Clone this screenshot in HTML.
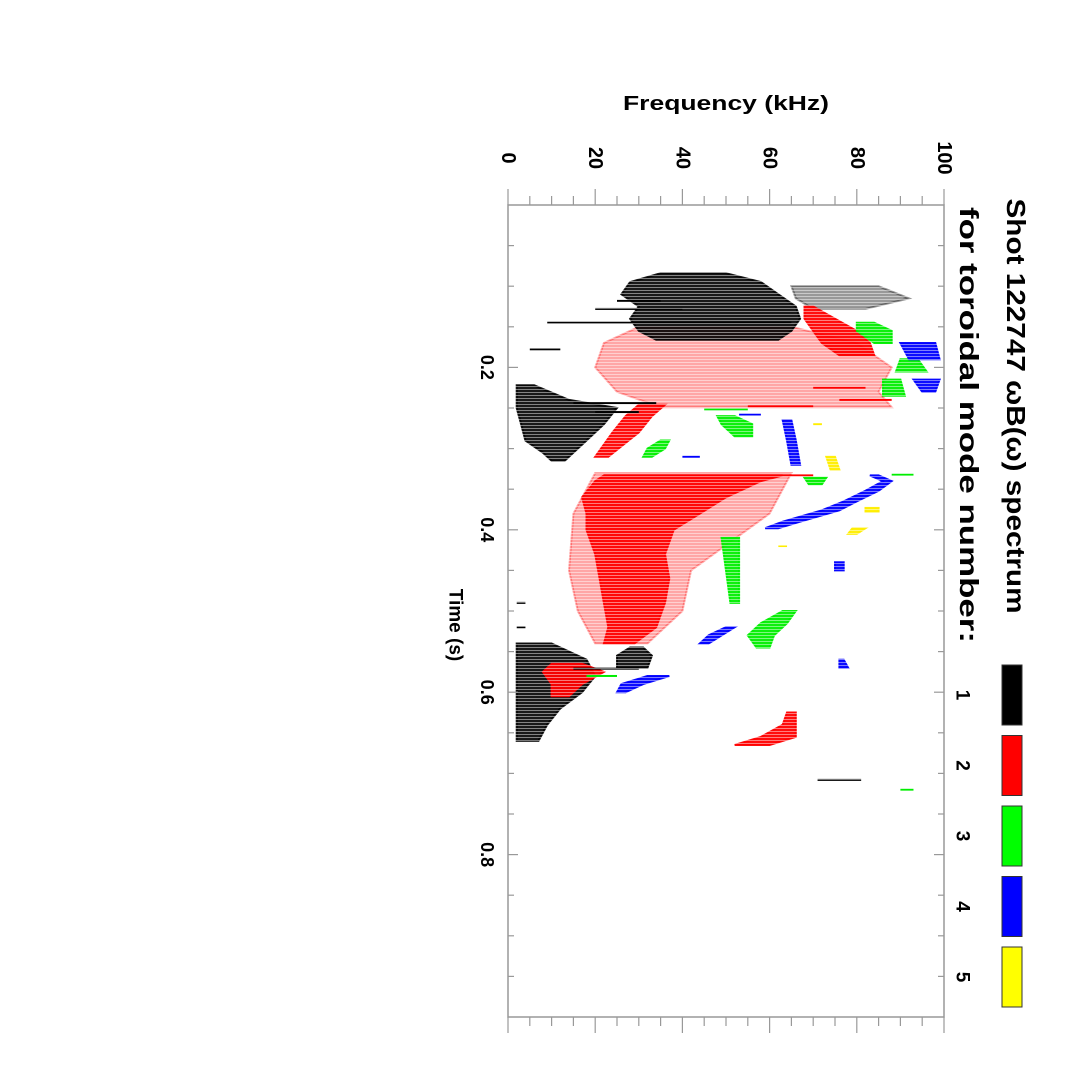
<!DOCTYPE html>
<html><head><meta charset="utf-8"><style>
html,body{margin:0;padding:0;background:#fff;}
svg{display:block;font-family:"Liberation Sans",sans-serif;font-weight:bold;}
</style></head><body>
<svg id="chart" width="1071" height="1071" viewBox="0 0 1071 1071" xmlns="http://www.w3.org/2000/svg">
<defs>
<pattern id="stripes" width="8" height="3" patternUnits="userSpaceOnUse">
<rect width="8" height="3" fill="#fff"/>
<rect y="2" width="8" height="1" fill="#888"/>
</pattern>
<mask id="streakMask"><rect x="0" y="0" width="1071" height="1071" fill="url(#stripes)"/></mask>
</defs>
<rect width="1071" height="1071" fill="#fff"/>
<g id="marks" mask="url(#streakMask)"></g>
<rect x="508" y="205" width="436" height="812" fill="none" stroke="#999" stroke-width="1.5"/>
<g id="ticks"></g>
<text x="726" y="110" font-size="20" text-anchor="middle" textLength="206" lengthAdjust="spacingAndGlyphs">Frequency (kHz)</text>
<text transform="translate(455,625) rotate(90)" font-size="19" text-anchor="middle" dominant-baseline="central">Time (s)</text>
<text transform="translate(1016,406) rotate(90)" font-size="26" text-anchor="middle" dominant-baseline="central" textLength="415" lengthAdjust="spacingAndGlyphs">Shot 122747 ωB(ω) spectrum</text>
<text transform="translate(969,425) rotate(90)" font-size="26" text-anchor="middle" dominant-baseline="central" textLength="436" lengthAdjust="spacingAndGlyphs">for toroidal mode number:</text>
<g id="legend"></g>
</svg>
<script>
const freqTicks = [0, 20, 40, 60, 80, 100];
const timeTicks = [0.2, 0.4, 0.6, 0.8];
const modeLabels = ["1", "2", "3", "4", "5"];
const modeColors = ["#000000", "#ff0000", "#00ff00", "#0000ff", "#ffff00"];
// blobs per mode: each blob is rows of [time (s), fLow (kHz), fHigh (kHz)]
const mode1Blobs = [
 [[0.084,35,50],[0.095,28,58],[0.11,26,62],[0.125,30,66],[0.14,28,67],[0.155,30,65],[0.166,34,62]],
 [[0.222,2,6],[0.24,2,14],[0.25,2,25],[0.27,3,22],[0.29,4,18],[0.305,8,15],[0.315,10,13]],
 [[0.54,2,10],[0.56,2,18],[0.58,2,20],[0.6,2,17],[0.62,2,12],[0.64,2,9],[0.66,2,7]],
 [[0.545,28,31],[0.555,25,33],[0.57,25,32]]
];
const mode1Faint = [
 [[0.1,65,85],[0.115,66,92],[0.128,70,82]]
];
const mode1Streaks = [[0.145,9,65],[0.128,20,40],[0.118,25,35],[0.244,15,34],[0.255,20,30],[0.571,15,30],[0.708,71,81],[0.178,5,12],[0.52,2,4],[0.49,2,4]];
const mode2Blobs = [
 [[0.125,68,70],[0.14,68,75],[0.155,70,80],[0.17,72,83],[0.185,76,84]],
 [[0.246,30,36],[0.26,27,33],[0.28,24,30],[0.31,20,23]],
 [[0.333,22,63],[0.34,20,58],[0.36,17,50],[0.38,18,44],[0.4,18,38],[0.43,20,36],[0.46,21,37],[0.49,22,36],[0.52,23,34],[0.54,22,29]],
 [[0.565,10,17],[0.575,8,22],[0.59,10,17],[0.605,10,14]],
 [[0.625,64,66],[0.64,63,66],[0.655,58,66],[0.665,52,60]]
];
const mode2Faint = [
 [[0.15,30,65],[0.17,22,80],[0.2,20,88],[0.23,25,85],[0.249,35,88]],
 [[0.33,20,65],[0.38,15,60],[0.45,14,42],[0.5,16,40],[0.54,20,32]]
];
const mode2Streaks = [[0.24,76,88],[0.225,70,82],[0.333,22,70],[0.248,55,70]];
const mode3Blobs = [
 [[0.145,80,84],[0.155,80,88],[0.17,84,88]],
 [[0.19,90,94],[0.205,89,96]],
 [[0.215,86,90],[0.235,86,91]],
 [[0.26,48,52],[0.27,49,56],[0.285,52,56]],
 [[0.29,35,37],[0.3,32,36],[0.31,31,33]],
 [[0.336,68,73],[0.344,69,72]],
 [[0.41,49,53],[0.45,50,53],[0.49,51,53]],
 [[0.5,63,66],[0.515,58,64],[0.53,55,61],[0.545,57,60]]
];
const mode3Streaks = [[0.58,18,25],[0.332,88,93],[0.252,45,55],[0.72,90,93]];
const mode4Blobs = [
 [[0.17,90,98],[0.19,92,99]],
 [[0.215,93,99],[0.23,95,98]],
 [[0.265,63,65],[0.29,64,66],[0.32,65,67]],
 [[0.333,83,85],[0.34,86,88],[0.352,82,85],[0.365,77,80],[0.376,72,76],[0.39,63,67],[0.398,59,62]],
 [[0.44,75,77],[0.45,75,77]],
 [[0.52,50,52],[0.53,46,49],[0.54,44,46]],
 [[0.56,76,77],[0.57,76,78]],
 [[0.58,32,37],[0.59,26,31],[0.6,25,27]]
];
const mode4Streaks = [[0.258,53,58],[0.31,40,44]];
const mode5Blobs = [
 [[0.31,73,75],[0.326,74,76]],
 [[0.373,82,85],[0.378,82,85]],
 [[0.398,79,82],[0.405,78,80]]
];
const mode5Streaks = [[0.42,62,64],[0.27,70,72]];

const X0 = 508, X1 = 944, Y0 = 205, Y1 = 1017;
const fx = f => X0 + (f / 100) * (X1 - X0);
const ty = t => Y0 + (t / 1.0) * (Y1 - Y0);
const NS = "http://www.w3.org/2000/svg";
const marks = document.getElementById("marks");
const ticks = document.getElementById("ticks");
const legend = document.getElementById("legend");

function blobPath(rows) {
  const left = rows.map(r => fx(r[1]).toFixed(1) + "," + ty(r[0]).toFixed(1));
  const right = rows.slice().reverse().map(r => fx(r[2]).toFixed(1) + "," + ty(r[0]).toFixed(1));
  return left.concat(right).join(" ");
}
function drawBlobs(blobs, color, op, name) {
  blobs.forEach(rows => {
    const p = document.createElementNS(NS, "polygon");
    p.setAttribute("points", blobPath(rows));
    p.setAttribute("fill", color);
    p.setAttribute("fill-opacity", op);
    p.setAttribute("stroke", color);
    p.setAttribute("stroke-opacity", op);
    p.setAttribute("stroke-width", "2");
    
    
    marks.appendChild(p);
  });
}
function drawStreaks(streaks, color, name) {
  streaks.forEach(s => {
    const r = document.createElementNS(NS, "rect");
    r.setAttribute("x", fx(s[1]));
    r.setAttribute("y", ty(s[0]) - 1);
    r.setAttribute("width", fx(s[2]) - fx(s[1]));
    r.setAttribute("height", 2);
    r.setAttribute("fill", color);
    
    
    marks.appendChild(r);
  });
}
drawBlobs(mode2Faint, "#ff0000", 0.35, "mode-2-faint-region");
drawBlobs(mode1Faint, "#000000", 0.4, "mode-1-faint-region");
drawBlobs(mode1Blobs, "#000000", 0.9, "mode-1-region");
drawBlobs(mode2Blobs, "#ff0000", 0.95, "mode-2-region");
drawBlobs(mode3Blobs, "#00ee00", 0.95, "mode-3-region");
drawBlobs(mode4Blobs, "#0000ff", 0.95, "mode-4-region");
drawBlobs(mode5Blobs, "#ffee00", 0.95, "mode-5-region");
drawStreaks(mode1Streaks, "#000", "mode-1-streak");
drawStreaks(mode2Streaks, "#ff0000", "mode-2-streak");
drawStreaks(mode3Streaks, "#00ee00", "mode-3-streak");
drawStreaks(mode4Streaks, "#0000ff", "mode-4-streak");
drawStreaks(mode5Streaks, "#ffee00", "mode-5-streak");

function line(x1, y1, x2, y2, name) {
  const l = document.createElementNS(NS, "line");
  l.setAttribute("x1", x1); l.setAttribute("y1", y1);
  l.setAttribute("x2", x2); l.setAttribute("y2", y2);
  l.setAttribute("stroke", "#999"); l.setAttribute("stroke-width", "1.2");
  
  
  ticks.appendChild(l);
}
for (let f = 0; f <= 100; f += 5) {
  const major = f % 20 === 0;
  line(fx(f), Y0, fx(f), Y0 - (major ? 16 : 9), "frequency-tick-top");
  line(fx(f), Y1, fx(f), Y1 + (major ? 16 : 9), "frequency-tick-bottom");
}
for (let i = 1; i < 20; i++) {
  const t = i * 0.05;
  const major = i % 4 === 0;
  line(X0, ty(t), X0 + (major ? 10 : 6), ty(t), "time-tick-left");
  line(X1, ty(t), X1 - (major ? 10 : 6), ty(t), "time-tick-right");
}
freqTicks.forEach(f => {
  const t = document.createElementNS(NS, "text");
  t.setAttribute("transform", "translate(" + fx(f) + ",158) rotate(90)");
  t.setAttribute("font-size", "20");
  t.setAttribute("text-anchor", "middle");
  t.setAttribute("dominant-baseline", "central");
  t.textContent = f;
  
  
  ticks.appendChild(t);
});
timeTicks.forEach(v => {
  const t = document.createElementNS(NS, "text");
  t.setAttribute("transform", "translate(487," + ty(v) + ") rotate(90)");
  t.setAttribute("font-size", "18");
  t.setAttribute("text-anchor", "middle");
  t.setAttribute("dominant-baseline", "central");
  t.textContent = v.toFixed(1);
  
  
  ticks.appendChild(t);
});
modeLabels.forEach((lab, i) => {
  const y = 665 + i * 70.5;
  const r = document.createElementNS(NS, "rect");
  r.setAttribute("x", 1002); r.setAttribute("y", y);
  r.setAttribute("width", 20); r.setAttribute("height", 60);
  r.setAttribute("fill", modeColors[i]);
  r.setAttribute("stroke", "#333"); r.setAttribute("stroke-width", "1");
  
  
  legend.appendChild(r);
  const t = document.createElementNS(NS, "text");
  t.setAttribute("transform", "translate(962," + (y + 30) + ") rotate(90)");
  t.setAttribute("font-size", "19");
  t.setAttribute("text-anchor", "middle");
  t.setAttribute("dominant-baseline", "central");
  t.textContent = lab;
  
  
  legend.appendChild(t);
});
</script>
</body></html>
